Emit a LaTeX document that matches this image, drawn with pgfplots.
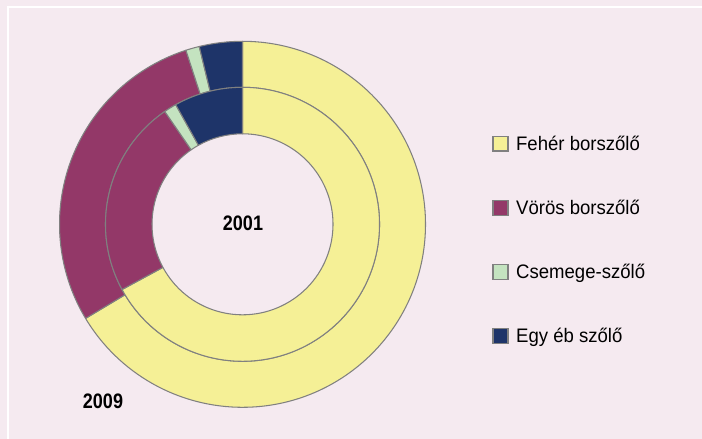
\documentclass[border=0pt]{standalone}
\usepackage{pgfplots}
\pgfplotsset{compat=1.18}
\usepackage{pgfplotstable}
\usepackage{graphicx}
\usepackage{fontspec}
\setmainfont{Liberation Sans}
\newfontfamily\legfont[FakeStretch=0.95]{Liberation Sans}
\newfontfamily\yearfont[FakeStretch=0.86]{Liberation Sans}
\definecolor{bgpink}{RGB}{245,234,240}
\definecolor{fyellow}{RGB}{245,240,150}
\definecolor{fpurple}{RGB}{147,56,104}
\definecolor{fgreen}{RGB}{196,227,192}
\definecolor{fnavy}{RGB}{30,52,105}
\definecolor{edgegray}{RGB}{128,128,128}

% shares (%), clockwise from 12 o'clock
\pgfplotstableread{
cat      y2001 y2009
Feher    67.1  66.4
Voros    23.3  28.6
Csemege   1.5   1.2
Egyeb     8.1   3.8
}\sharedata

\newcommand\sector[5]{% color, cum start, cum end, r inner, r outer
  \fill[#1,draw=edgegray,line width=0.75pt,line join=round]
    (axis cs:{\cx+#5*cos(90-3.6*#2)},{\cy+#5*sin(90-3.6*#2)})
    arc[start angle={90-3.6*#2}, end angle={90-3.6*#3}, radius=#5cm]
    -- (axis cs:{\cx+#4*cos(90-3.6*#3)},{\cy+#4*sin(90-3.6*#3)})
    arc[start angle={90-3.6*#3}, end angle={90-3.6*#2}, radius=#4cm]
    -- cycle;}

\begin{document}
\begin{tikzpicture}
\fill[bgpink] (0,0) rectangle (17.55,10.975);
\fill[white] (0.175,10.775) rectangle (17.55,10.825);
\fill[white] (0.175,0) rectangle (0.225,10.825);
% cumulative shares
\pgfplotstablegetelem{0}{y2001}\of\sharedata \pgfmathsetmacro\pA{\pgfplotsretval}
\pgfplotstablegetelem{1}{y2001}\of\sharedata \pgfmathsetmacro\pB{\pA+\pgfplotsretval}
\pgfplotstablegetelem{2}{y2001}\of\sharedata \pgfmathsetmacro\pC{\pB+\pgfplotsretval}
\pgfplotstablegetelem{3}{y2001}\of\sharedata \pgfmathsetmacro\pD{\pC+\pgfplotsretval}
\pgfplotstablegetelem{0}{y2009}\of\sharedata \pgfmathsetmacro\qA{\pgfplotsretval}
\pgfplotstablegetelem{1}{y2009}\of\sharedata \pgfmathsetmacro\qB{\qA+\pgfplotsretval}
\pgfplotstablegetelem{2}{y2009}\of\sharedata \pgfmathsetmacro\qC{\qB+\pgfplotsretval}
\pgfplotstablegetelem{3}{y2009}\of\sharedata \pgfmathsetmacro\qD{\qC+\pgfplotsretval}
\def\cx{6.0625}
\def\cy{5.3675}
\begin{axis}[
  at={(0,0)}, anchor=south west,
  x=1cm, y=1cm, xmin=0, xmax=17.55, ymin=0, ymax=10.975,
  hide axis, clip=false,
  legend image code/.code={\draw[#1] (0cm,-0.18cm) rectangle (0.375cm,0.19cm);},
  legend cell align=left,
  legend style={at={(axis cs:12.3,7.69)}, anchor=north west, draw=none, fill=none,
    font=\legfont\fontsize{13.9}{16}\selectfont, row sep=0.99cm, inner sep=0pt,
    nodes={inner sep=0.1cm},
    /tikz/every odd column/.append style={column sep=0.09cm}},
]
% outer ring: 2009
\sector{fyellow}{0}{\qA}{3.425}{4.575}
\sector{fpurple}{\qA}{\qB}{3.425}{4.575}
\sector{fgreen}{\qB}{\qC}{3.425}{4.575}
\sector{fnavy}{\qC}{\qD}{3.425}{4.575}
% inner ring: 2001
\sector{fyellow}{0}{\pA}{2.2625}{3.425}
\sector{fpurple}{\pA}{\pB}{2.2625}{3.425}
\sector{fgreen}{\pB}{\pC}{2.2625}{3.425}
\sector{fnavy}{\pC}{\pD}{2.2625}{3.425}
\node[font=\yearfont\bfseries\fontsize{14.9}{16}\selectfont] at (axis cs:6.075,5.4) {2001};
\node[font=\yearfont\bfseries\fontsize{14.9}{16}\selectfont] at (axis cs:2.575,0.95) {2009};
\addlegendimage{fill=fyellow,draw=edgegray,line width=0.9pt}
\addlegendentry{Fehér borszőlő}
\addlegendimage{fill=fpurple,draw=edgegray,line width=0.9pt}
\addlegendentry{Vörös borszőlő}
\addlegendimage{fill=fgreen,draw=edgegray,line width=0.9pt}
\addlegendentry{Csemege-szőlő}
\addlegendimage{fill=fnavy,draw=edgegray,line width=0.9pt}
\addlegendentry{Egy éb szőlő}
\end{axis}
\pgfresetboundingbox
\useasboundingbox (0,0) rectangle (17.55,10.975);
\end{tikzpicture}
\end{document}
